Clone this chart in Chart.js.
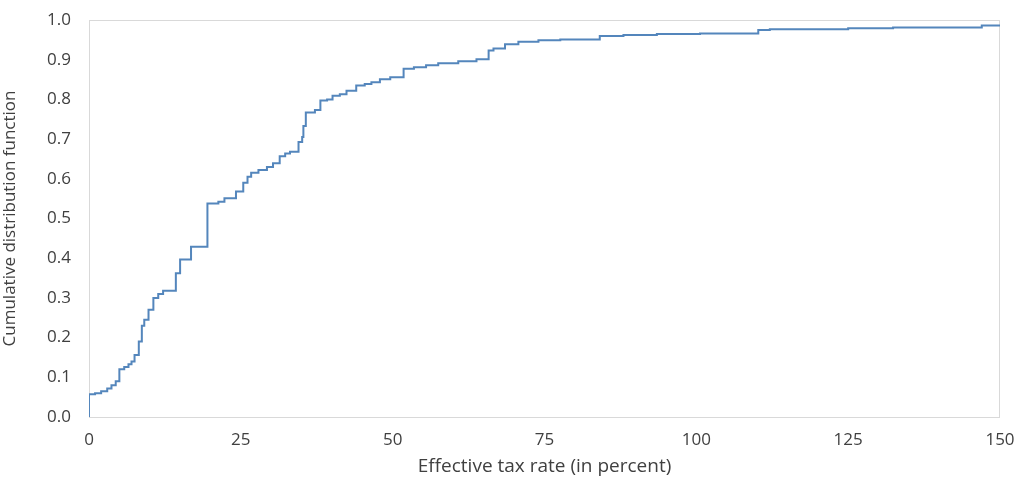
<!DOCTYPE html>
<html>
<head>
<meta charset="utf-8">
<script src="https://cdn.jsdelivr.net/npm/chart.js@4"></script>
<style>
  body { margin: 0; background: #fff; }
  #wrap { width: 1016px; height: 479px; }
</style>
</head>
<body>
<div id="wrap"><canvas id="chart"></canvas></div>
<script>
// step points of the CDF: tax rate where the step happens, level after it
const taxRate = [0, 0, 1.0, 2.0, 3.0, 3.7, 4.4, 5.0, 5.8, 6.5, 7.0, 7.5, 8.2, 8.7, 9.1, 9.8,
  10.6, 11.4, 12.2, 14.3, 15.0, 16.8, 19.5, 21.3, 22.3, 24.2, 25.4, 26.1, 26.7, 27.9,
  29.3, 30.3, 31.4, 32.3, 33.1, 34.5, 35.1, 35.3, 35.7, 37.2, 38.1, 39.2, 40.1, 41.3,
  42.4, 44.0, 45.4, 46.5, 47.9, 49.6, 51.8, 53.5, 55.5, 57.5, 60.8, 63.8, 65.8, 66.6,
  68.5, 70.7, 74.0, 77.6, 84.1, 88.0, 93.5, 100.6, 110.2, 112.1, 125.0, 132.4, 147.0, 150];
const cdf = [0, 0.057, 0.060, 0.065, 0.072, 0.080, 0.090, 0.120, 0.126, 0.133, 0.140, 0.156,
  0.190, 0.230, 0.245, 0.270, 0.300, 0.310, 0.318, 0.362, 0.397, 0.429, 0.538, 0.542,
  0.551, 0.568, 0.590, 0.605, 0.615, 0.622, 0.630, 0.639, 0.657, 0.664, 0.668, 0.693,
  0.705, 0.733, 0.767, 0.773, 0.797, 0.800, 0.809, 0.813, 0.822, 0.835, 0.839, 0.843,
  0.851, 0.856, 0.877, 0.881, 0.886, 0.891, 0.896, 0.901, 0.923, 0.928, 0.939, 0.945,
  0.949, 0.951, 0.960, 0.962, 0.965, 0.966, 0.975, 0.977, 0.979, 0.981, 0.986, 0.986];

const xTitle = "Effective tax rate (in percent)";
const yTitle = "Cumulative distribution function";

const points = taxRate.map((x, i) => ({ x: x, y: cdf[i] }));

const txt = "#404040";
const fam = "'Open Sans', 'Noto Sans', sans-serif";
const font = { family: fam, size: 17 };

// light frame around the plot area
const frame = {
  id: "frame",
  beforeDatasetsDraw(chart) {
    const a = chart.chartArea;
    const c = chart.ctx;
    c.save();
    c.strokeStyle = "#d9d9d9";
    c.lineWidth = 1;
    c.strokeRect(a.left + 0.5, a.top + 0.5, a.right - a.left - 1, a.bottom - a.top);
    c.restore();
  }
};

new Chart(document.getElementById("chart").getContext("2d"), {
  type: "line",
  data: {
    datasets: [{
      data: points,
      borderColor: "#5486bc",
      borderWidth: 2,
      pointRadius: 0,
      stepped: true,
      fill: false
    }]
  },
  options: {
    responsive: true,
    maintainAspectRatio: false,
    animation: false,
    layout: { padding: { left: 0, right: 16, top: 20, bottom: 0 } },
    plugins: { legend: { display: false }, tooltip: { enabled: false } },
    scales: {
      x: {
        type: "linear",
        min: 0, max: 150,
        grid: { display: false, drawTicks: false },
        border: { display: false },
        ticks: { stepSize: 25, color: txt, font: font, padding: 13, maxRotation: 0 },
        title: { display: true, text: xTitle, color: txt, font: { family: fam, size: 19 },
          padding: { top: 2, bottom: 1 } },
        afterFit(s) { s.height = 62; s.paddingLeft = 0; s.paddingRight = 0; }
      },
      y: {
        min: 0, max: 1,
        grid: { display: false, drawTicks: false },
        border: { display: false },
        ticks: { stepSize: 0.1, color: txt, font: font, padding: 18,
          callback: v => v.toFixed(1) },
        title: { display: true, text: yTitle, color: txt, font: font, padding: { top: 0, bottom: 0 } },
        afterFit(s) { s.width = 89; s.paddingTop = 0; s.paddingBottom = 0; }
      }
    }
  },
  plugins: [frame]
});
</script>
</body>
</html>
